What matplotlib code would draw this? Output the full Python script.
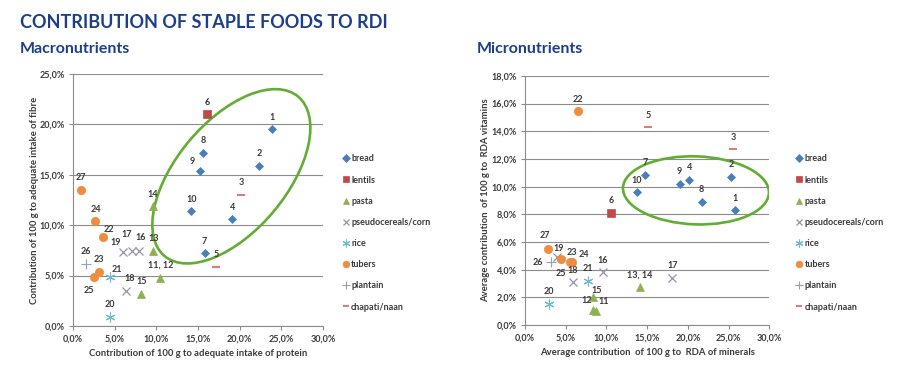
import numpy as np
import matplotlib
matplotlib.use('Agg')
import matplotlib.pyplot as plt
from matplotlib.patches import Ellipse
from matplotlib.transforms import ScaledTranslation
from matplotlib.ticker import FuncFormatter
from matplotlib.lines import Line2D

plt.rcParams['font.family'] = ['Lato', 'DejaVu Sans']

# ---- data (percent) ----
groups = ['bread', 'lentils', 'pasta', 'pseudocereals/corn', 'rice', 'tubers', 'plantain', 'chapati/naan']

# macronutrients
macro_labels = ['1', '2', '3', '4', '5', '6', '7', '8', '9', '10', '11, 12', '13', '14', '15',
                '16', '17', '18', '19', '20', '21', '22', '23', '24', '25', '26', '27']
macro_group = ['bread', 'bread', 'chapati/naan', 'bread', 'chapati/naan', 'lentils', 'bread', 'bread',
               'bread', 'bread', 'pasta', 'pasta', 'pasta', 'pasta', 'pseudocereals/corn',
               'pseudocereals/corn', 'pseudocereals/corn', 'pseudocereals/corn', 'rice', 'rice',
               'tubers', 'tubers', 'tubers', 'tubers', 'plantain', 'tubers']
protein = [23.9, 22.3, 20.2, 19.1, 17.2, 16.1, 15.8, 15.6, 15.2, 14.2, 10.5, 9.6, 9.6, 8.2,
           7.9, 7.1, 6.4, 6.0, 4.4, 4.4, 3.6, 3.1, 2.7, 2.5, 1.6, 1.0]
fibre = [19.5, 15.9, 13.0, 10.6, 5.9, 21.0, 7.2, 17.2, 15.4, 11.4, 4.8, 7.4, 11.9, 3.2,
         7.45, 7.45, 3.5, 7.3, 0.9, 4.9, 8.8, 5.4, 10.4, 4.9, 6.2, 13.5]

# micronutrients
micro_labels = ['1', '2', '3', '4', '5', '6', '7', '8', '9', '10', '11', '12', '13, 14', '15',
                '16', '17', '18', '19', '20', '21', '22', '23', '24', '25', '26', '27']
micro_group = ['bread', 'bread', 'chapati/naan', 'bread', 'chapati/naan', 'lentils', 'bread', 'bread',
               'bread', 'bread', 'pasta', 'pasta', 'pasta', 'pasta', 'pseudocereals/corn',
               'pseudocereals/corn', 'pseudocereals/corn', 'pseudocereals/corn', 'rice', 'rice',
               'tubers', 'tubers', 'tubers', 'tubers', 'plantain', 'tubers']
minerals = [25.8, 25.35, 25.6, 20.2, 15.1, 10.6, 14.8, 21.7, 19.0, 13.7, 8.7, 8.3, 14.1, 8.3,
            9.6, 18.1, 5.85, 3.9, 2.9, 7.7, 6.55, 5.5, 5.8, 4.4, 3.15, 2.8]
vitamins = [8.3, 10.7, 12.7, 10.5, 14.3, 8.1, 10.85, 8.9, 10.2, 9.6, 1.0, 1.1, 2.75, 2.0,
            3.8, 3.4, 3.1, 4.9, 1.55, 3.2, 15.45, 4.55, 4.55, 4.75, 4.55, 5.5]

# ---- styles ----
style = {
    'bread': dict(marker='D', color='#4a7ebb', ms=4.5, mew=0.5),
    'lentils': dict(marker='s', color='#be4b48', ms=5.5, mew=0.5),
    'pasta': dict(marker='^', color='#8fb04f', ms=5.5, mew=0.5),
    'pseudocereals/corn': dict(marker='x', color='#9990ad', ms=6, mew=0.9),
    'rice': dict(marker=(6, 2, 0), color='#6cbad0', ms=7, mew=0.8),
    'tubers': dict(marker='o', color='#f08c3e', ms=6, mew=0.5),
    'plantain': dict(marker='+', color='#8fa3bd', ms=7, mew=0.8),
    'chapati/naan': dict(marker='_', color='#d9605c', ms=6, mew=1.2),
}

# label offsets in pixels (default: centred above)
macro_off = {'9': (-7, 9), '19': (-7, 10), '18': (3, 12), '21': (7, 7), '22': (6, 8), '25': (-5, -14),
             '17': (-5, 16), '16': (2, 13), '13': (1, 13)}
micro_off = {'27': (-3, 13), '19': (2, 9), '23': (2, 10), '24': (12, 8), '26': (-13, 0), '25': (0, -14),
             '15': (4, 7), '12': (-6, 9), '11': (8, 10)}

GRID = '#8c8c8c'
TXT = '#3a3a3a'
ELL = '#62ad34'

fig = plt.figure(figsize=(9, 3.69), dpi=100)


def pct(v, pos):
    return f'{v:.1f}'.replace('.', ',') + '%'


def draw(ax, xs, ys, labels, grp, offs, ymax, ystep, xlabel, ylabel, ypad):
    for g in groups:
        sel = [i for i, k in enumerate(grp) if k == g]
        st = style[g]
        ax.plot([xs[i] for i in sel], [ys[i] for i in sel], linestyle='none',
                marker=st['marker'], color=st['color'], markersize=st['ms'],
                markeredgewidth=st['mew'], zorder=3)
    for x, y, lab in zip(xs, ys, labels):
        dx, dy = offs.get(lab, (0, 12))
        ax.annotate(lab, (x, y), xytext=(dx, dy), textcoords='offset pixels',
                    ha='center', va='center', fontsize=6.5, fontweight='bold', color=TXT, zorder=4)
    ax.set_xlim(0, 30)
    ax.set_ylim(0, ymax)
    ax.set_xticks(np.arange(0, 30.1, 5))
    ax.set_yticks(np.arange(0, ymax + 0.01, ystep))
    ax.xaxis.set_major_formatter(FuncFormatter(pct))
    ax.yaxis.set_major_formatter(FuncFormatter(pct))
    ax.grid(axis='y', color=GRID, linewidth=0.8)
    ax.set_axisbelow(True)
    for s in ['top', 'right']:
        ax.spines[s].set_visible(False)
    for s in ['left', 'bottom']:
        ax.spines[s].set_color(GRID)
        ax.spines[s].set_linewidth(0.8)
    ax.tick_params(axis='both', length=3, width=0.8, color=GRID, labelsize=6.5, labelcolor=TXT, pad=3)
    for t in ax.get_xticklabels() + ax.get_yticklabels():
        t.set_fontweight('bold')
    ax.set_xlabel(xlabel, fontsize=6.8, fontweight='bold', color=TXT, labelpad=4)
    ax.set_ylabel(ylabel, fontsize=6.8, fontweight='bold', color=TXT, labelpad=ypad)


def ellipse(ax, cx, cy, w_px, h_px, angle):
    tr = fig.dpi_scale_trans + ScaledTranslation(cx, cy, ax.transData)
    e = Ellipse((0, 0), w_px / 100, h_px / 100, angle=angle, transform=tr,
                fill=False, edgecolor=ELL, linewidth=1.9, zorder=2)
    ax.add_patch(e)


def legend(ax, x, y):
    handles = []
    for g in groups:
        st = style[g]
        handles.append(Line2D([], [], linestyle='none', marker=st['marker'], color=st['color'],
                              markersize=st['ms'] * 0.8, markeredgewidth=st['mew']))
    leg = fig.legend(handles, groups, loc='upper left', bbox_to_anchor=(x, y), frameon=False,
                     prop={'size': 6.5, 'weight': 'bold'}, handlelength=0.6, handletextpad=0.3,
                     labelspacing=1.35, borderpad=0)
    for t in leg.get_texts():
        t.set_color(TXT)


ax1 = fig.add_axes([0.0811, 0.1165, 0.2778, 0.683])
draw(ax1, protein, fibre, macro_labels, macro_group, macro_off, 25, 5,
     'Contribution of 100 g to adequate intake of protein',
     'Contribution of 100 g to adequate intake of fibre', 0)
ellipse(ax1, 19.0, 14.85, 208, 110, 50)
legend(ax1, 0.376, 0.594)

ax2 = fig.add_axes([0.5833, 0.1192, 0.2714, 0.675])
draw(ax2, minerals, vitamins, micro_labels, micro_group, micro_off, 18, 2,
     'Average contribution  of 100 g to  RDA of minerals',
     'Average contribution  of 100 g to  RDA vitamins', 1)
ellipse(ax2, 21.0, 9.73, 146, 68, -2)
legend(ax2, 0.88, 0.594)

navy = '#1d3f8a'
fig.text(20 / 900, 1 - 22 / 369, 'CONTRIBUTION OF STAPLE FOODS TO RDI', fontsize=13, fontweight='bold',
         color=navy, va='center', ha='left')
fig.text(20 / 900, 1 - 49 / 369, 'Macronutrients', fontsize=11.5, fontweight='bold',
         color=navy, va='center', ha='left')
fig.text(477 / 900, 1 - 49 / 369, 'Micronutrients', fontsize=11.5, fontweight='bold',
         color=navy, va='center', ha='left')

fig.savefig('out.png', dpi=100, facecolor='white')
